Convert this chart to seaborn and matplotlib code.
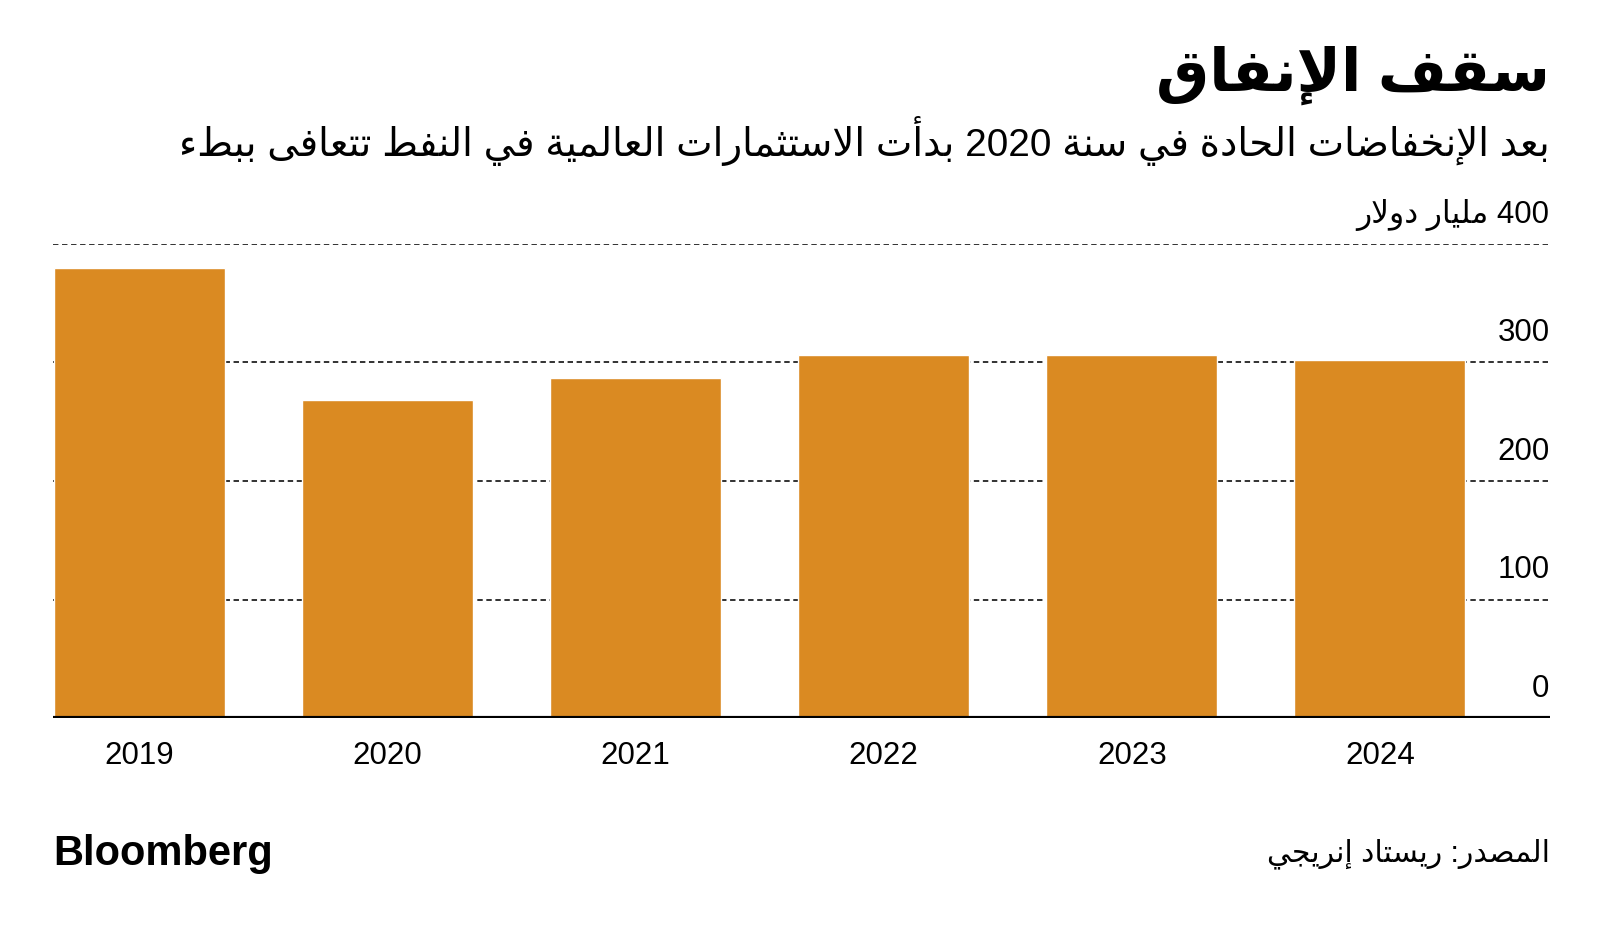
import re
import matplotlib
matplotlib.use('Agg')
from matplotlib import pyplot as plt
import seaborn as sns

years = ['2019', '2020', '2021', '2022', '2023', '2024']
spending = [380, 268, 287, 306, 306, 302]
y_ticks = [0, 100, 200, 300, 400]

title = 'سقف الإنفاق'
subtitle = 'بعد الإنخفاضات الحادة في سنة 2020 بدأت الاستثمارات العالمية في النفط تتعافى ببطء'
unit = 'مليار دولار'
source = 'المصدر: ريستاد إنريجي'

BAR_COLOR = '#DA8A22'

# matplotlib has no arabic shaping, so pick the presentation forms by hand
DUAL = {'ئ': 0xFE89, 'ب': 0xFE8F, 'ت': 0xFE95, 'ث': 0xFE99, 'ج': 0xFE9D, 'ح': 0xFEA1,
        'خ': 0xFEA5, 'س': 0xFEB1, 'ش': 0xFEB5, 'ص': 0xFEB9, 'ض': 0xFEBD, 'ط': 0xFEC1,
        'ظ': 0xFEC5, 'ع': 0xFEC9, 'غ': 0xFECD, 'ف': 0xFED1, 'ق': 0xFED5, 'ك': 0xFED9,
        'ل': 0xFEDD, 'م': 0xFEE1, 'ن': 0xFEE5, 'ه': 0xFEE9, 'ي': 0xFEF1}
RIGHT = {'آ': 0xFE81, 'أ': 0xFE83, 'ؤ': 0xFE85, 'إ': 0xFE87, 'ا': 0xFE8D, 'ة': 0xFE93,
         'د': 0xFEA9, 'ذ': 0xFEAB, 'ر': 0xFEAD, 'ز': 0xFEAF, 'و': 0xFEED, 'ى': 0xFEEF}
LAM_ALEF = {'آ': 0xFEF5, 'أ': 0xFEF7, 'إ': 0xFEF9, 'ا': 0xFEFB}


def shape(text):
    out = []
    prev_joins = False
    i = 0
    while i < len(text):
        c = text[i]
        nxt = text[i + 1] if i + 1 < len(text) else ''
        if c == 'ل' and nxt in LAM_ALEF:
            out.append(chr(LAM_ALEF[nxt] + (1 if prev_joins else 0)))
            prev_joins = False
            i += 2
            continue
        if c in DUAL:
            joins_next = nxt in DUAL or nxt in RIGHT
            if prev_joins:
                form = 3 if joins_next else 1
            else:
                form = 2 if joins_next else 0
            out.append(chr(DUAL[c] + form))
            prev_joins = joins_next
        elif c in RIGHT:
            out.append(chr(RIGHT[c] + (1 if prev_joins else 0)))
            prev_joins = False
        else:
            out.append(c)
            prev_joins = False
        i += 1
    return out


def rtl(text):
    s = ''.join(reversed(shape(text)))
    # numbers keep their left-to-right order
    return re.sub(r'[0-9]+', lambda m: m.group(0)[::-1], s)


sns.set_style('white')
plt.rcParams['font.family'] = ['Liberation Sans', 'DejaVu Sans']
plt.rcParams['text.color'] = 'black'
plt.rcParams['xtick.color'] = 'black'

fig = plt.figure(figsize=(16, 9.28), dpi=100)
ax = fig.add_axes([0.0331, 0.2252, 0.9354, 0.5108])

for t in y_ticks[1:]:
    ax.axhline(t, color='#222222', lw=1.3, linestyle=(0, (3, 2)), zorder=0)

sns.barplot(x=years, y=spending, color=BAR_COLOR, saturation=1, width=0.69, ax=ax, zorder=2)
ax.axhline(0, color='black', lw=3, zorder=3)

ax.set_xlim(-0.348, 5.684)
ax.set_ylim(0, 400)
sns.despine(ax=ax, left=True, bottom=True)
ax.set_yticks([])
ax.set_xlabel('')
ax.set_ylabel('')
ax.tick_params(axis='x', length=0, pad=15.5, labelsize=22.5)

for t in y_ticks:
    label = str(t) if t != 400 else rtl(str(t) + ' ' + unit)
    ax.annotate(label, xy=(1.0, t), xycoords=ax.get_yaxis_transform(),
                xytext=(0, 16), textcoords='offset points',
                ha='right', va='baseline', fontsize=22.5)

fig.text(0.9685, 0.919, rtl(title), ha='right', va='center', fontsize=42.8, fontweight='bold')
fig.text(0.9685, 0.848, rtl(subtitle), ha='right', va='center', fontsize=27.9)
fig.text(0.9685, 0.080, rtl(source), ha='right', va='center', fontsize=21.5)
fig.text(0.0331, 0.080, 'Bloomberg', ha='left', va='center', fontsize=30, fontweight='bold')

fig.savefig('out.png', dpi=100, facecolor='white')
